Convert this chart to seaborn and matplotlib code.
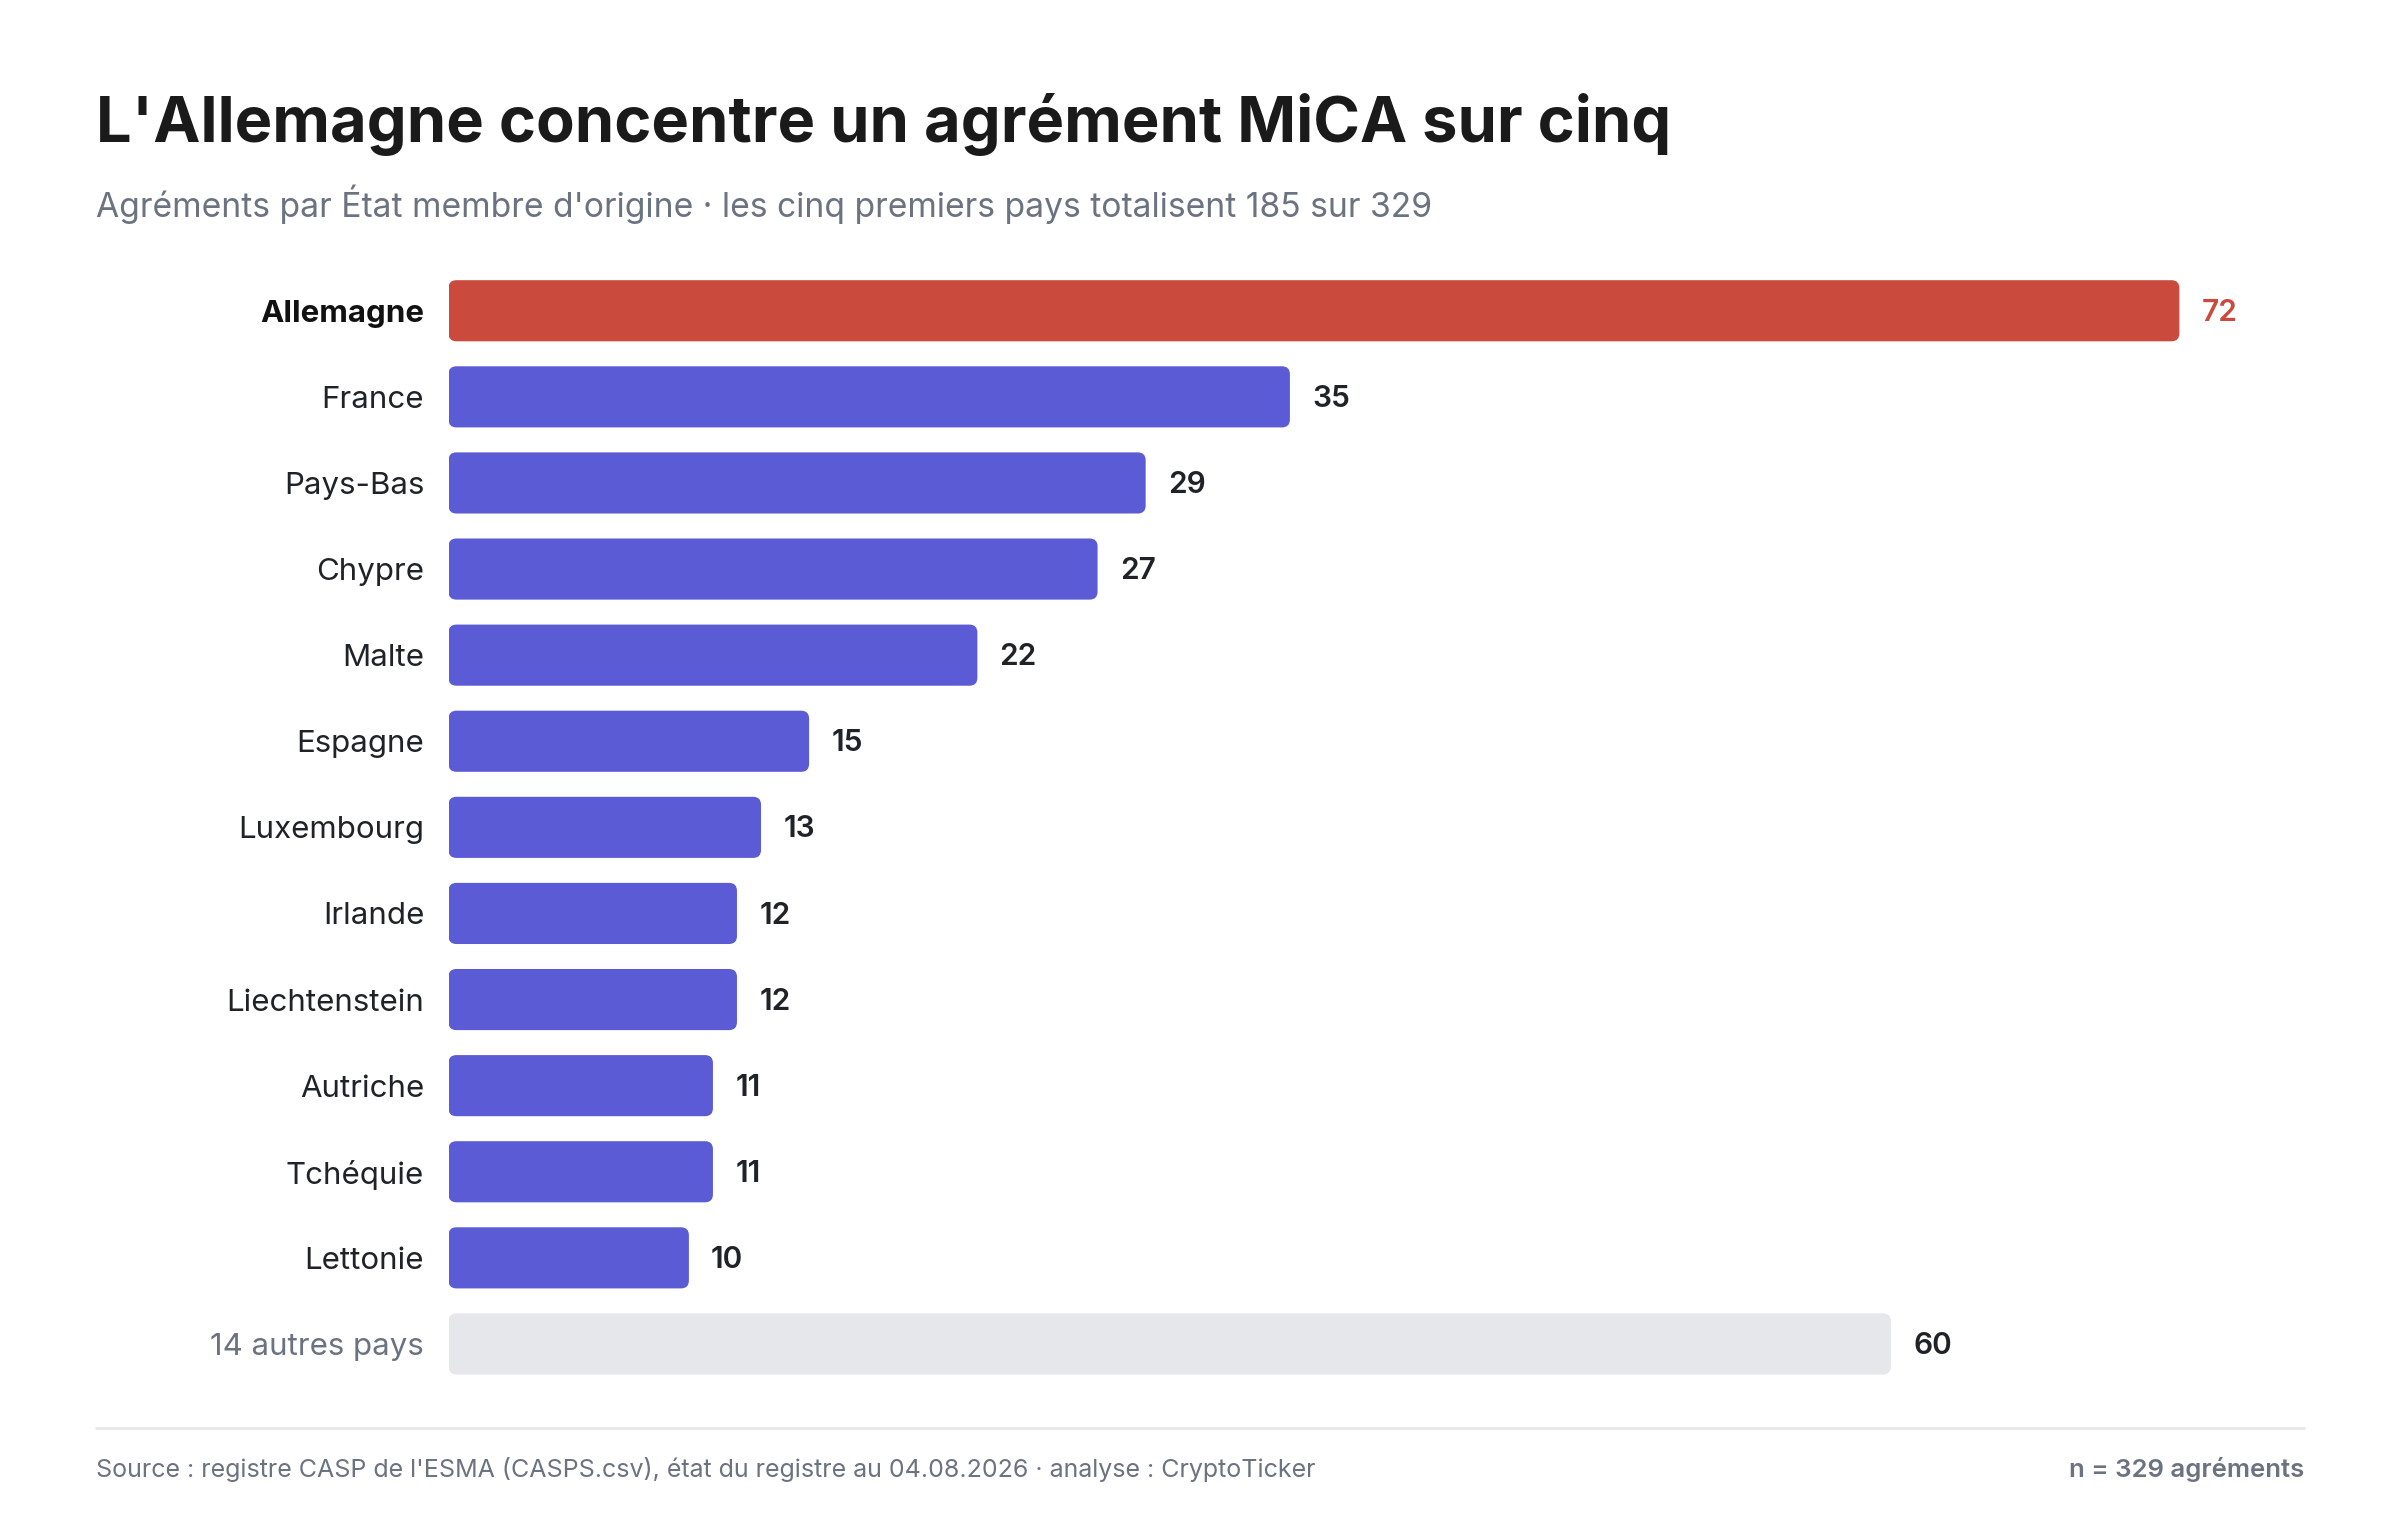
import pandas as pd
import seaborn as sns
import matplotlib.pyplot as plt
from matplotlib.patches import FancyBboxPatch

# data
pays = ["Allemagne", "France", "Pays-Bas", "Chypre", "Malte", "Espagne",
        "Luxembourg", "Irlande", "Liechtenstein", "Autriche", "Tchéquie",
        "Lettonie", "14 autres pays"]
agrements = [72, 35, 29, 27, 22, 15, 13, 12, 12, 11, 11, 10, 60]

title = "L'Allemagne concentre un agrément MiCA sur cinq"
subtitle = ("Agréments par État membre d'origine · les cinq premiers pays "
            "totalisent 185 sur 329")
source = ("Source : registre CASP de l'ESMA (CASPS.csv), état du registre au "
          "04.08.2026 · analyse : CryptoTicker")
total_note = "n = 329 agréments"

RED = "#cb4a3e"
BLUE = "#5b5bd6"
GREY_BAR = "#e5e7eb"
DARK = "#1f2328"
GREY_TXT = "#6b7280"

colors = {p: BLUE for p in pays}
colors[pays[0]] = RED
colors[pays[-1]] = GREY_BAR

df = pd.DataFrame({"pays": pays, "agrements": agrements})

sns.set_theme(style="white")
plt.rcParams["font.family"] = ["Inter", "DejaVu Sans"]

W, H = 2400, 1520
LEFT, RIGHT = 96, 2304          # page margins (px)
AX_L, AX_T, AX_B = 448.5, 267.7, 1387
PX_PER_UNIT = 24.04
ROW_PX = 86.09

fig = plt.figure(figsize=(24, 15.2), dpi=100)
ax = fig.add_axes([AX_L / W, 1 - AX_B / H, (RIGHT - AX_L) / W,
                   (AX_B - AX_T) / H])

sns.barplot(data=df, x="agrements", y="pays", hue="pays", palette=colors,
            legend=False, width=0.71, ax=ax, saturation=1)

ax.set_xlim(0, (RIGHT - AX_L) / PX_PER_UNIT)
ax.set_ylim(len(pays) - 0.5, -0.5)

# swap the plain rectangles for rounded ones
aspect = PX_PER_UNIT / ROW_PX
for bar in list(ax.patches):
    x, y = bar.get_x(), bar.get_y()
    w, h = bar.get_width(), bar.get_height()
    fc = bar.get_facecolor()
    bar.set_visible(False)
    rb = FancyBboxPatch((x, y), w, h,
                        boxstyle="round,pad=0,rounding_size=0.33",
                        mutation_aspect=aspect, facecolor=fc,
                        edgecolor="none", zorder=2)
    ax.add_patch(rb)

# value labels
for i, v in enumerate(agrements):
    color = RED if i == 0 else DARK
    ax.annotate(str(v), xy=(v, i), xytext=(16, -1.5),
                textcoords="offset points", ha="left", va="center",
                fontsize=21.5, fontweight="semibold", color=color)

ax.set_xlabel("")
ax.set_ylabel("")
ax.set_xticks([])
ax.tick_params(axis="y", length=0, pad=17.5, labelsize=22.5)
for i, lab in enumerate(ax.get_yticklabels()):
    if i == 0:
        lab.set_fontweight("bold")
        lab.set_color("#111111")
    elif i == len(pays) - 1:
        lab.set_color(GREY_TXT)
    else:
        lab.set_color(DARK)
sns.despine(ax=ax, left=True, bottom=True)

fig.text(LEFT / W, 1 - 125 / H, title, fontsize=45.5, fontweight="bold",
         color="#1a1a1a", va="center", ha="left")
fig.text(LEFT / W, 1 - 204 / H, subtitle, fontsize=24.2, color=GREY_TXT,
         va="center", ha="left")

fig.add_artist(plt.Line2D([LEFT / W, RIGHT / W], [1 - 1428 / H, 1 - 1428 / H],
                          color=GREY_BAR, lw=2))
fig.text(LEFT / W, 1 - 1469 / H, source, fontsize=18, color=GREY_TXT,
         va="center", ha="left")
fig.text(RIGHT / W, 1 - 1469 / H, total_note, fontsize=18.5, color=GREY_TXT,
         fontweight="semibold", va="center", ha="right")

fig.savefig("out.png", dpi=100, facecolor="white")
